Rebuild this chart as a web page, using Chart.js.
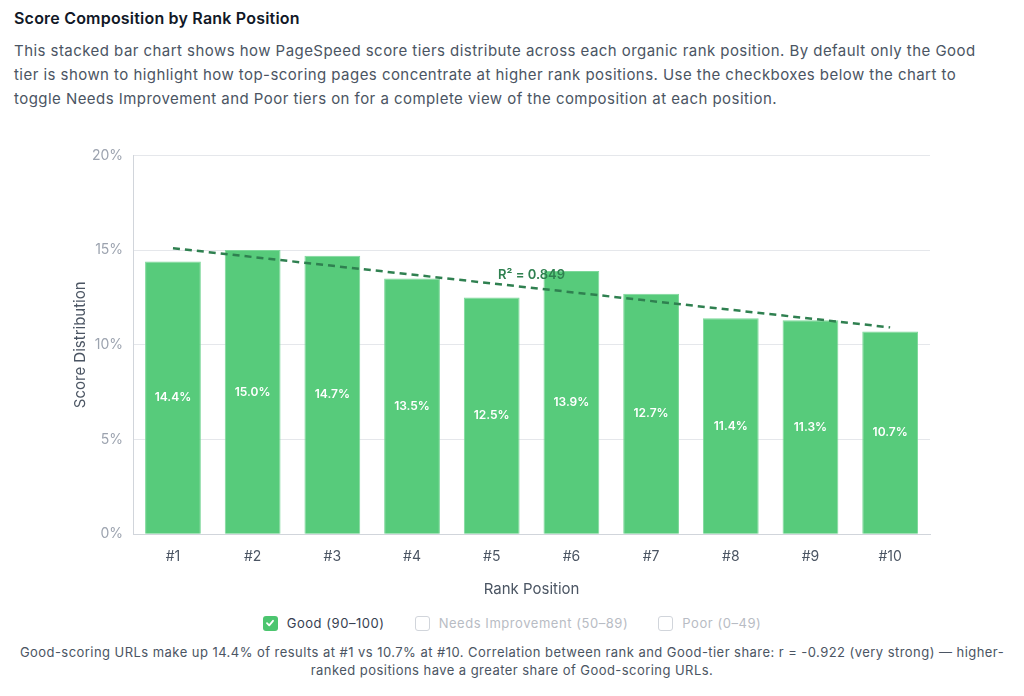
<!DOCTYPE html>
<html>
<head>
<meta charset="utf-8">
<script src="https://cdn.jsdelivr.net/npm/chart.js@4/dist/chart.umd.min.js"></script>
<style>
  html, body { margin: 0; padding: 0; background: #fff; }
  body { font-family: Inter, "Noto Sans", sans-serif; color: #374151; width: 1024px; height: 696px; overflow: hidden; }
  .wrap { padding: 8px 14px 0 14px; }
  h3 { margin: 0; font-size: 16px; font-weight: 600; color: #111827; line-height: 20px; letter-spacing: 0.2px; }
  p.desc { margin: 11px 20px 0 0; font-size: 15px; line-height: 24px; color: #4b5563; letter-spacing: 0.45px; }
  .chart-box { position: relative; height: 465px; margin-top: 26px; }
  .toggles { display: flex; justify-content: center; gap: 30px; font-size: 13px; margin-top: 13px; letter-spacing: 0.55px; }
  .toggle { display: flex; align-items: center; gap: 9px; }
  .box { width: 15px; height: 15px; border-radius: 3px; box-sizing: border-box; display: inline-flex; align-items: center; justify-content: center; }
  .box.on { background: #4cc56f; }
  .box.off { border: 1px solid #d1d5db; background: #fff; }
  .toggle.off span.t { color: #b8bcc4; }
  .toggle.on span.t { color: #374151; }
  .foot { text-align: center; font-size: 13px; line-height: 18px; color: #4b5563; margin-top: 12px; padding: 0 2px; letter-spacing: 0.45px; }
</style>
</head>
<body>
<div class="wrap">
  <h3>Score Composition by Rank Position</h3>
  <p class="desc">This stacked bar chart shows how PageSpeed score tiers distribute across each organic rank position. By default only the Good tier is shown to highlight how top-scoring pages concentrate at higher rank positions. Use the checkboxes below the chart to toggle Needs Improvement and Poor tiers on for a complete view of the composition at each position.</p>
  <div class="chart-box"><canvas id="chart"></canvas></div>
  <div class="toggles">
    <label class="toggle on"><span class="box on"><svg width="10" height="10" viewBox="0 0 10 10"><path d="M2 5.2 L4.2 7.3 L8 2.8" fill="none" stroke="#fff" stroke-width="1.8" stroke-linecap="round" stroke-linejoin="round"/></svg></span><span class="t">Good (90–100)</span></label>
    <label class="toggle off"><span class="box off"></span><span class="t">Needs Improvement (50–89)</span></label>
    <label class="toggle off"><span class="box off"></span><span class="t">Poor (0–49)</span></label>
  </div>
  <div class="foot">Good-scoring URLs make up 14.4% of results at #1 vs 10.7% at #10. Correlation between rank and Good-tier share: r = -0.922 (very strong) — higher-ranked positions have a greater share of Good-scoring URLs.</div>
</div>
<script>
const rankLabels = ["#1", "#2", "#3", "#4", "#5", "#6", "#7", "#8", "#9", "#10"];
const goodShare = [14.4, 15.0, 14.7, 13.5, 12.5, 13.9, 12.7, 11.4, 11.3, 10.7];
// trend line: starts at #1, ends at #10
const goodTrend = [15.1, null, null, null, null, null, null, null, null, 10.92];
const rSquaredText = "R² = 0.849";
const yMax = 20;
const yStep = 5;

const barLabels = {
    id: "barLabels",
    afterDatasetsDraw(chart) {
        const ctx = chart.ctx;
        const meta = chart.getDatasetMeta(0);
        ctx.save();
        ctx.fillStyle = "#ffffff";
        ctx.font = "600 12px Inter, sans-serif";
        ctx.textAlign = "center";
        ctx.textBaseline = "middle";
        meta.data.forEach((bar, i) => {
            const mid = (bar.y + bar.base) / 2;
            ctx.fillText(goodShare[i].toFixed(1) + "%", bar.x, mid);
        });
        ctx.restore();
    }
};

const trendLabel = {
    id: "trendLabel",
    afterDatasetsDraw(chart) {
        const ctx = chart.ctx;
        const xs = chart.scales.x;
        const ys = chart.scales.y;
        const x = (xs.getPixelForValue(4) + xs.getPixelForValue(5)) / 2;
        const midVal = (goodTrend[0] + goodTrend[goodTrend.length - 1]) / 2;
        const y = ys.getPixelForValue(midVal) - 13;
        ctx.save();
        ctx.fillStyle = "#2f8050";
        ctx.font = "600 13px Inter, sans-serif";
        ctx.textAlign = "center";
        ctx.textBaseline = "middle";
        ctx.fillText(rSquaredText, x, y);
        ctx.restore();
    }
};

new Chart(document.getElementById("chart").getContext("2d"), {
    type: "bar",
    data: {
        labels: rankLabels,
        datasets: [
            {
                type: "bar",
                label: "Good (90–100)",
                data: goodShare,
                backgroundColor: "#57cb7b",
                borderColor: "#7dd89a",
                borderWidth: 1,
                categoryPercentage: 0.7,
                barPercentage: 1,
                order: 2
            },
            {
                type: "line",
                label: "Trend",
                data: goodTrend,
                borderColor: "#2f8050",
                borderWidth: 2.5,
                borderDash: [7, 5],
                pointRadius: 0,
                spanGaps: true,
                fill: false,
                order: 1
            }
        ]
    },
    options: {
        animation: false,
        responsive: true,
        maintainAspectRatio: false,
        layout: { padding: { left: 53, right: 80, top: 4, bottom: 0 } },
        plugins: { legend: { display: false }, tooltip: { enabled: false } },
        scales: {
            x: {
                stacked: true,
                grid: { display: false },
                border: { color: "#d1d5db" },
                ticks: { color: "#4b5563", font: { size: 14, family: "Inter" }, padding: 6 },
                title: { display: true, text: "Rank Position", color: "#4b5563", font: { size: 15, family: "Inter" }, padding: { top: 9 } }
            },
            y: {
                stacked: true,
                min: 0,
                max: yMax,
                grid: { color: "#e5e7eb", drawTicks: false },
                border: { color: "#d1d5db" },
                ticks: { stepSize: yStep, color: "#9ca3af", font: { size: 14, family: "Inter" }, padding: 10, callback: v => v + "%" },
                title: { display: true, text: "Score Distribution", color: "#4b5563", font: { size: 15, family: "Inter" }, padding: { top: 4, bottom: -7 } }
            }
        }
    },
    plugins: [barLabels, trendLabel]
});
</script>
</body>
</html>
